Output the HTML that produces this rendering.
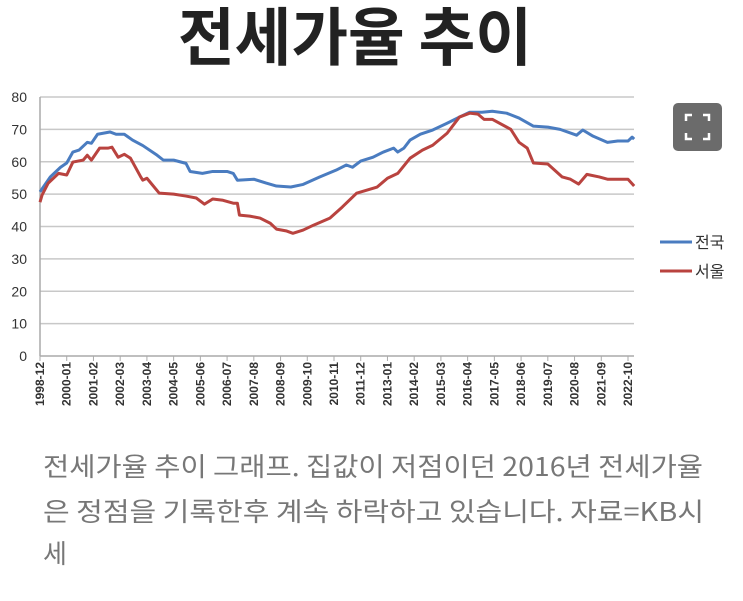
<!DOCTYPE html>
<html><head><meta charset="utf-8">
<style>
html,body{margin:0;padding:0;background:#fff;}
svg{display:block;}
</style></head>
<body>
<svg id="chart" width="743" height="601" xmlns="http://www.w3.org/2000/svg" font-family="'Liberation Sans','Noto Sans CJK KR',sans-serif">
<text x="178" y="60" font-size="63" font-weight="bold" fill="#222" textLength="354" lengthAdjust="spacingAndGlyphs" font-family="'Noto Sans CJK KR',sans-serif">전세가율 추이</text>
<g id="grid"></g>
<g id="yax"></g>
<g id="xax"></g>
<g id="series"></g>
<g>
<g>
<line x1="660" y1="242" x2="692" y2="242" stroke="#4a7cc0" stroke-width="3"/>
<text x="695" y="248" font-size="16" fill="#333" font-family="'Noto Sans CJK KR',sans-serif">전국</text></g>
<g>
<line x1="660" y1="271" x2="692" y2="271" stroke="#b9433f" stroke-width="3"/>
<text x="695" y="277" font-size="16" fill="#333" font-family="'Noto Sans CJK KR',sans-serif">서울</text></g>
</g>
<g>
<rect x="673" y="103" width="49" height="48" rx="5" fill="#6b6b6b"/>
<path d="M686 121v-6h6 M703 115h6v6 M709 133v6h-6 M692 139h-6v-6" stroke="#fff" stroke-width="2.5" fill="none"/>
</g>
<g font-family="'Noto Sans CJK KR',sans-serif" fill="#777" font-size="26">
<text x="43" y="476" textLength="660" lengthAdjust="spacingAndGlyphs">전세가율 추이 그래프. 집값이 저점이던 2016년 전세가율</text>
<text x="43" y="521" textLength="661" lengthAdjust="spacingAndGlyphs">은 정점을 기록한후 계속 하락하고 있습니다. 자료=KB시</text>
<text x="43" y="563">세</text>
</g>
</svg>
<script>
const yTicks=[0,10,20,30,40,50,60,70,80];
const xTickLabels=["1998-12","2000-01","2001-02","2002-03","2003-04","2004-05","2005-06","2006-07","2007-08","2008-09","2009-10","2010-11","2011-12","2013-01","2014-02","2015-03","2016-04","2017-05","2018-06","2019-07","2020-08","2021-09","2022-10"];
const nationalMonths=[0,5,10,13,16,19,23,25,28,34,37,41,45,50,57,60,65,71,73,79,84,91,94,96,104,110,115,122,128,136,144,149,152,156,162,167,172,174,177,180,185,191,198,204,209,215,220,227,233,240,247,253,261,264,269,276,281,286,288,289];
const nationalValues=[50.7,55.3,58.3,59.6,63,63.6,66,65.7,68.5,69.2,68.5,68.5,66.7,65,62,60.5,60.5,59.5,57,56.4,57,57,56.4,54.3,54.6,53.4,52.5,52.2,53,55.3,57.4,59,58.3,60.2,61.4,63,64.2,63,64.2,66.7,68.5,69.8,71.9,73.8,75.3,75.3,75.6,75,73.5,71,70.7,70,68.2,69.8,67.9,66,66.4,66.4,67.6,67];
const seoulMonths=[0,1,4,9,13,16,21,23,25,29,33,35,38,41,44,49,50,52,58,65,71,76,80,84,89,94,96,97,102,107,112,115,120,123,128,133,141,147,154,164,169,174,180,186,191,198,204,209,213,216,220,229,233,237,240,247,254,258,262,266,272,276,286,289];
const seoulValues=[47.5,49.7,53.4,56.4,55.9,59.9,60.5,62,60.5,64.2,64.2,64.5,61.4,62.3,61.1,55.3,54.3,54.9,50.3,50,49.4,48.8,46.9,48.5,48.1,47.2,47.2,43.5,43.2,42.6,41,39.2,38.6,37.9,38.9,40.4,42.6,46,50.3,52.2,54.9,56.4,61.1,63.6,65.1,68.8,73.8,75,74.7,73.1,73.1,70,66,64.2,59.6,59.3,55.3,54.6,53.1,56.1,55.3,54.6,54.6,52.5];
const NS='http://www.w3.org/2000/svg';
const X0=40,X1=634,Y0=356,Y80=97;
const ys=v=>Y0-(v/80)*(Y0-Y80);
const xs=m=>X0+m*(588/286);
const xt=i=>X0+i*(588/22);
function mk(tag,attrs,parent){const e=document.createElementNS(NS,tag);for(const k in attrs)e.setAttribute(k,attrs[k]);parent.appendChild(e);return e;}
const grid=document.getElementById('grid'),yax=document.getElementById('yax'),xax=document.getElementById('xax'),ser=document.getElementById('series');
yTicks.forEach(v=>{
  if(v>0){const l=mk('line',{x1:X0,x2:X1,y1:ys(v),y2:ys(v),stroke:'#c8c8c8','stroke-width':1.5},grid);
  
  }
  const t=mk('text',{x:27,y:ys(v)+5,'text-anchor':'end','font-size':14,fill:'#333'},yax);
  
  
  t.textContent=v;
});
const ax=mk('line',{x1:X0,x2:X0,y1:Y80,y2:Y0,stroke:'#aaa','stroke-width':1.5},xax);


const bx=mk('line',{x1:X0,x2:X1,y1:Y0,y2:Y0,stroke:'#aaa','stroke-width':1.5},xax);


xTickLabels.forEach((s,i)=>{
  const x=xt(i);
  mk('line',{x1:x,x2:x,y1:Y0,y2:Y0+5,stroke:'#aaa','stroke-width':1},xax);
  const t=mk('text',{x:0,y:0,transform:`translate(${x+4},${Y0+6}) rotate(-90)`,'text-anchor':'end','font-size':12,'font-weight':'bold',fill:'#333'},xax);
  
  
  t.textContent=s;
});
function line(ms,vs,color,name){
  const p=mk('polyline',{points:ms.map((m,i)=>xs(m)+','+ys(vs[i])).join(' '),fill:'none',stroke:color,'stroke-width':3,'stroke-linejoin':'round'},ser);
  
  
}
line(nationalMonths,nationalValues,'#4a7cc0','national-line');
line(seoulMonths,seoulValues,'#b9433f','seoul-line');
</script>
</body></html>
